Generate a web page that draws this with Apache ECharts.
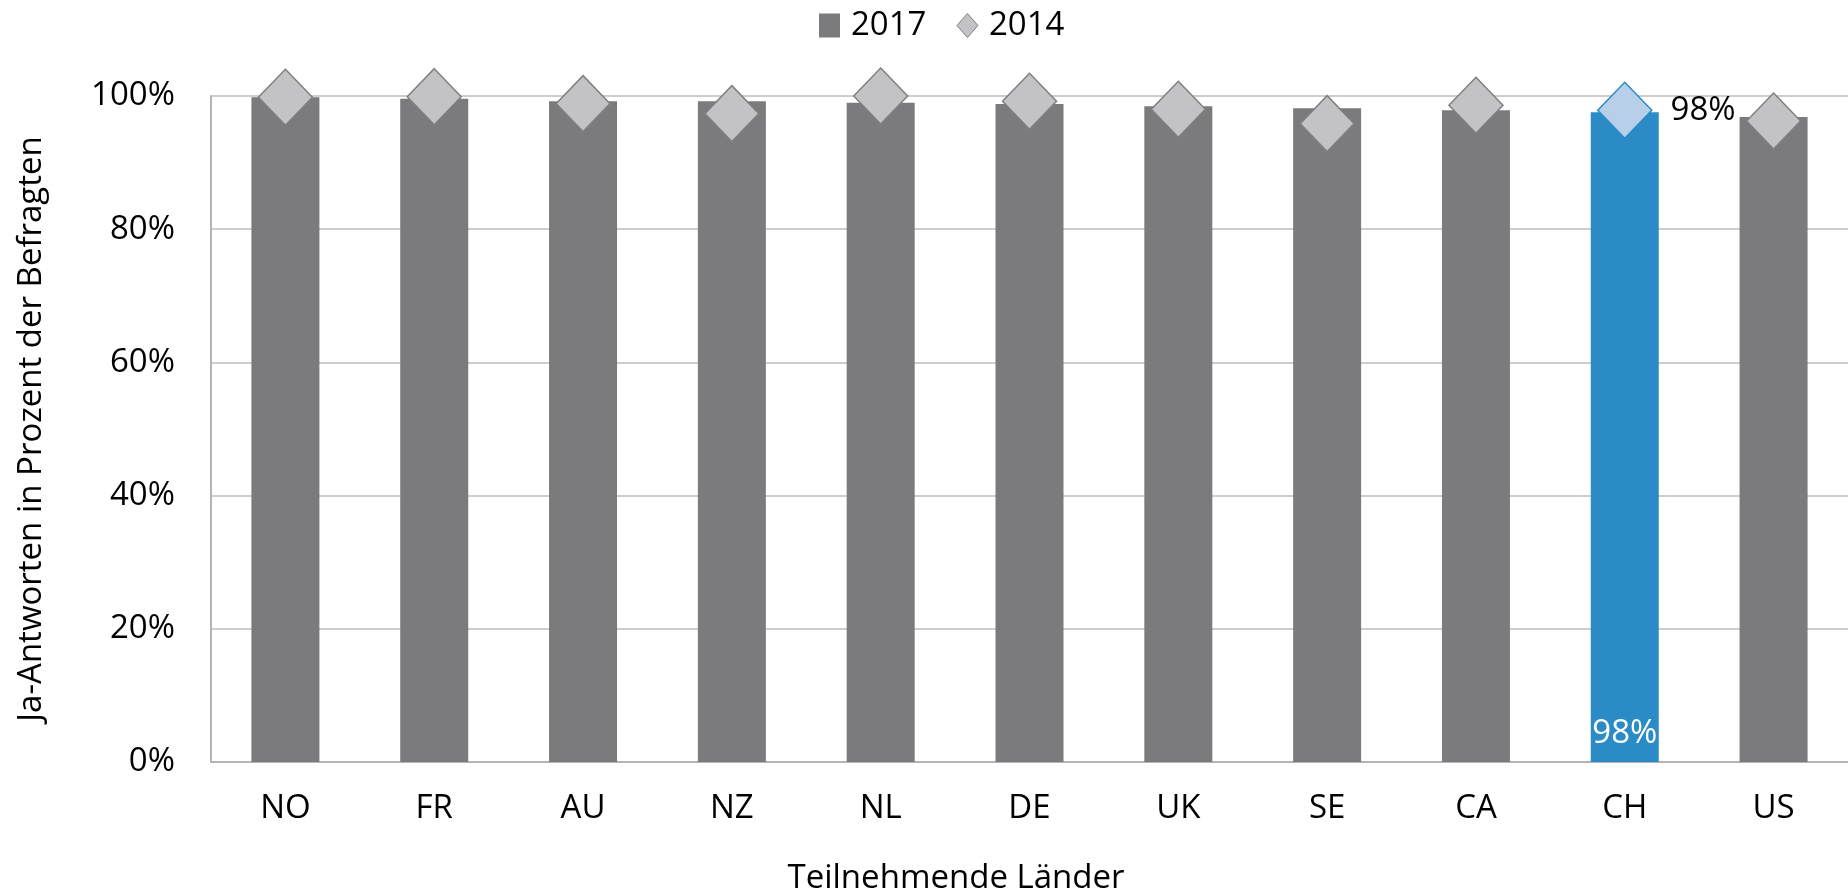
<!DOCTYPE html>
<html><head><meta charset="utf-8">
<script src="https://cdn.jsdelivr.net/npm/echarts@6/dist/echarts.min.js"></script>
<style>html,body{margin:0;padding:0;background:#fff}#c{width:1848px;height:890px}</style>
</head><body><div id="c"></div>
<script>
const categories = ['NO','FR','AU','NZ','NL','DE','UK','SE','CA','CH','US'];
const values2017 = [99.8, 99.6, 99.2, 99.2, 99.0, 98.8, 98.45, 98.15, 97.85, 97.55, 96.85];
const values2014 = [99.8, 99.9, 98.85, 97.35, 100.0, 99.2, 98.0, 95.85, 98.6, 97.85, 96.25];
const yTicks = [0, 20, 40, 60, 80, 100];
const highlight = 'CH';

const FONT = 'Open Sans';
const FS = 33;
const chart = echarts.init(document.getElementById('c'));
chart.setOption({
  animation: false,
  textStyle: {fontFamily: FONT},
  grid: {left: 211, right: 0, top: 96, bottom: 128},
  legend: {
    top: 4, left: 814, itemGap: 30, itemWidth: 21, itemHeight: 24,
    textStyle: {fontFamily: FONT, fontSize: FS, color: '#000', padding: [0, 0, 0, 6]},
    data: [
      {name: '2017', icon: 'rect', itemStyle: {color: '#7b7b7d', opacity: 1}},
      {name: '2014', icon: 'diamond', itemStyle: {color: '#c3c3c5', borderColor: '#7f7f7f', borderWidth: 1, opacity: 1}}
    ]
  },
  title: {
    text: 'Teilnehmende Länder', left: 951, top: 857, textAlign: 'center',
    textStyle: {fontFamily: FONT, fontSize: FS, fontWeight: 'normal', color: '#000'}
  },
  xAxis: {
    type: 'category', data: categories,
    axisLine: {lineStyle: {color: '#b4b4b4', width: 2}},
    axisTick: {show: false},
    axisLabel: {fontFamily: FONT, fontSize: FS, color: '#000', margin: 30}
  },
  yAxis: {
    type: 'value', min: yTicks[0], max: yTicks[yTicks.length - 1], interval: 20,
    name: 'Ja-Antworten in Prozent der Befragten', nameLocation: 'middle', nameGap: 163,
    nameTextStyle: {fontFamily: FONT, fontSize: FS, color: '#000'},
    axisLine: {show: true, lineStyle: {color: '#b4b4b4', width: 2}},
    axisTick: {show: false},
    splitLine: {lineStyle: {color: '#bdbdbd', width: 1.5}},
    axisLabel: {fontFamily: FONT, fontSize: FS, color: '#000', margin: 36, formatter: v => v + '%'}
  },
  series: [
    {
      name: '2017', type: 'bar', barWidth: 68, z: 2,
      data: values2017.map((v, i) => categories[i] === highlight ? {
        value: v, itemStyle: {color: '#2b8bc7'},
        label: {show: true, position: 'insideBottom', distance: 12, color: '#fff',
          fontFamily: FONT, fontSize: FS, formatter: p => Math.round(p.value) + '%'}
      } : {value: v}),
      itemStyle: {color: '#7b7b7d'}
    },
    {
      name: '2014', type: 'scatter', symbol: 'diamond', symbolSize: [54, 56], z: 3,
      itemStyle: {color: '#c3c3c5', borderColor: '#7f7f7f', borderWidth: 1.5, opacity: 1},
      data: values2014.map((v, i) => categories[i] === highlight ? {
        value: v, itemStyle: {color: '#b8cfea', borderColor: '#2b8bc7', borderWidth: 1.5, opacity: 1},
        label: {show: true, position: 'right', distance: 18, color: '#000',
          fontFamily: FONT, fontSize: FS, formatter: p => Math.round(Array.isArray(p.value) ? p.value[1] : p.value) + '%'}
      } : {value: v})
    }
  ]
});
</script></body></html>
